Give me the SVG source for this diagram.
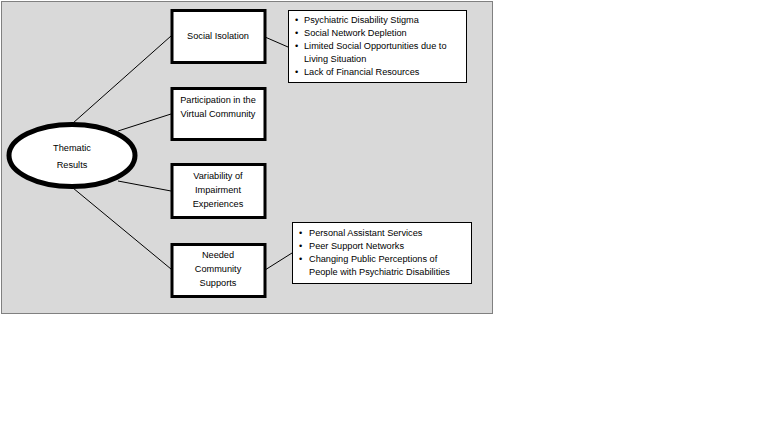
<svg xmlns="http://www.w3.org/2000/svg" width="768" height="432" viewBox="0 0 768 432">
<style>
.t{font-family:"Liberation Sans",Arial,sans-serif;font-size:9.2px;fill:#000}
.c{text-anchor:middle}
.node{fill:#fff;stroke:#000;stroke-width:3}
.list{fill:#fff;stroke:#000;stroke-width:1}
.conn line{stroke:#000;stroke-width:1}
</style>
<rect x="0" y="0" width="768" height="432" fill="#fff"/>
<rect x="1.5" y="1.5" width="491" height="312" fill="#d9d9d9" stroke="#808080" stroke-width="1"/>
<g id="connectors" class="conn">
<line x1="73" y1="123" x2="171" y2="36"/>
<line x1="118" y1="131" x2="171" y2="114"/>
<line x1="118" y1="181" x2="171" y2="191"/>
<line x1="73" y1="188" x2="171" y2="269"/>
<line x1="265" y1="37" x2="288" y2="47"/>
<line x1="265" y1="270" x2="292" y2="253"/>
</g>
<g id="thematic-results">
<ellipse cx="72" cy="155.5" rx="63" ry="31" fill="#fff" stroke="#000" stroke-width="5"/>
<text class="t c" x="72" y="151">Thematic</text>
<text class="t c" x="72" y="168">Results</text>
</g>
<g id="social-isolation">
<rect class="node" x="172" y="10.5" width="93" height="52"/>
<text class="t c" x="218" y="39">Social Isolation</text>
</g>
<g id="participation">
<rect class="node" x="172" y="88.5" width="93" height="51"/>
<text class="t c" x="218" y="103">Participation in the</text>
<text class="t c" x="218" y="117">Virtual Community</text>
</g>
<g id="variability">
<rect class="node" x="172" y="164.5" width="93" height="53"/>
<text class="t c" x="218" y="179">Variability of</text>
<text class="t c" x="218" y="193">Impairment</text>
<text class="t c" x="218" y="207">Experiences</text>
</g>
<g id="needed-supports">
<rect class="node" x="172" y="244.5" width="93" height="52"/>
<text class="t c" x="218" y="258">Needed</text>
<text class="t c" x="218" y="272">Community</text>
<text class="t c" x="218" y="286">Supports</text>
</g>
<g id="isolation-list">
<rect class="list" x="288.5" y="10.5" width="178" height="72"/>
<text class="t" x="295" y="23">•</text><text class="t" x="304" y="23">Psychiatric Disability Stigma</text>
<text class="t" x="295" y="36">•</text><text class="t" x="304" y="36">Social Network Depletion</text>
<text class="t" x="295" y="49">•</text><text class="t" x="304" y="49">Limited Social Opportunities due to</text>
<text class="t" x="304" y="62">Living Situation</text>
<text class="t" x="295" y="75">•</text><text class="t" x="304" y="75">Lack of Financial Resources</text>
</g>
<g id="supports-list">
<rect class="list" x="292.5" y="222.5" width="179" height="61"/>
<text class="t" x="299" y="236">•</text><text class="t" x="309" y="236">Personal Assistant Services</text>
<text class="t" x="299" y="249">•</text><text class="t" x="309" y="249">Peer Support Networks</text>
<text class="t" x="299" y="262">•</text><text class="t" x="309" y="262">Changing Public Perceptions of</text>
<text class="t" x="309" y="275">People with Psychiatric Disabilities</text>
</g>
</svg>
